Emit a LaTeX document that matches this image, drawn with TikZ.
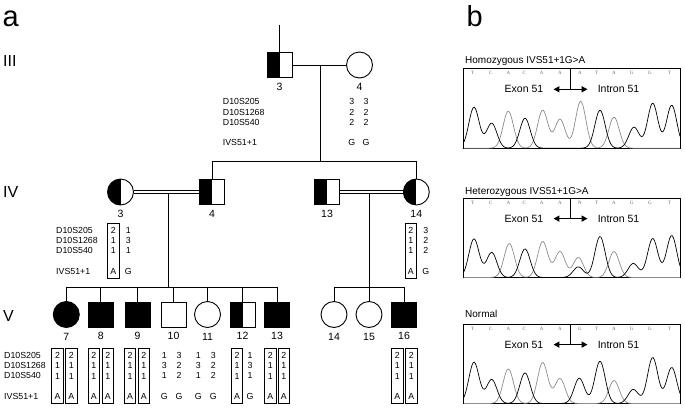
\documentclass[tikz,border=0pt]{standalone}
\usepackage{fontspec}
\setmainfont{Liberation Sans}
\newfontfamily\seqfont{Liberation Serif}
\usetikzlibrary{arrows.meta,positioning}

\newcommand\geno[4]{#1\\#2\\#3\\[10pt]#4}
\newcommand\pk[3]{#3*exp(-min(((#1-#2)/7.3)*((#1-#2)/7.3),9))}

\begin{document}
\begin{tikzpicture}[x=1pt,y=-1pt,
    pline/.style={line width=0.8pt},
    dbl/.style={double, double distance=1.8pt, line width=0.7pt},
    ped/.style={draw, line width=0.9pt, inner sep=0pt, minimum size=25pt},
    male/.style={ped, rectangle},
    female/.style={ped, circle, minimum size=26pt},
    aff/.style={fill=black},
    half/.style={path picture={\fill[black] (path picture bounding box.south west) rectangle (path picture bounding box.north);}},
    num/.style={font=\fontsize{10.5}{12}\selectfont, inner sep=0pt},
    gen/.style={font=\fontsize{16}{18}\selectfont, anchor=west, inner sep=0pt},
    panel/.style={font=\fontsize{29}{32}\selectfont, anchor=base west, inner sep=0pt},
    mkr/.style={font=\fontsize{8.8}{10.3}\selectfont, align=left, anchor=north west, inner xsep=0pt, inner ysep=4.3pt},
    col/.style={font=\fontsize{8.8}{10.3}\selectfont, align=center, anchor=north, inner xsep=2.8pt, inner ysep=4.3pt},
    colbox/.style={col, draw, line width=0.7pt},
    ttl/.style={font=\fontsize{10}{12}\selectfont, anchor=base west, inner sep=0pt},
    seqtxt/.style={font=\seqfont\fontsize{5}{6}\selectfont, text=black!60, inner sep=0pt},
    exo/.style={font=\fontsize{10.5}{12}\selectfont, inner sep=0pt},
    dblarr/.style={{Triangle[length=6pt,width=6pt]}-{Triangle[length=6pt,width=6pt]}, line width=1.3pt},
    frame/.style={line width=0.8pt},
    blk/.style={line width=0.7pt},
    gry/.style={line width=0.7pt, black!45}]
\useasboundingbox (0,0) rectangle (685,407);

% panel letters and generations
\node[panel] (pa) at (2.5,26.7) {a};
\node[panel] (pb) at (466.5,26.7) {b};
\node[gen] (gIII) at (3,61) {III};
\node[gen] (gIV) at (3,192) {IV};
\node[gen] (gV) at (3,316) {V};

% generation III
\coordinate (top) at (279.5,25);
\node[male, half] (III3) at (279.5,65) {};
\node[female] (III4) at (359.5,65) {};
\draw[pline] (top) -- (III3);
\draw[pline] (III3) -- (III4);
\coordinate (m3) at (320.5,65);
\coordinate (s3) at (320.5,161);
\draw[pline] (m3) -- (s3);

% generation IV
\node[female, half] (IV3) at (120.5,192) {};
\node[male, half] (IV4) at (212,192) {};
\node[male, half] (IV13) at (327,192) {};
\node[female, half] (IV14) at (416.3,192) {};
\draw[pline] (IV4 |- s3) -- (IV14 |- s3);
\draw[pline] (IV4 |- s3) -- (IV4);
\draw[pline] (IV14 |- s3) -- (IV14);
\draw[dbl] (IV3) -- (IV4);
\draw[dbl] (IV13) -- (IV14);
\coordinate (m4) at (168.3,193.6);
\coordinate (s4) at (168.3,287);
\coordinate (m13) at (369,193.6);
\coordinate (s13) at (369,287);
\draw[pline] (m4) -- (s4);
\draw[pline] (m13) -- (s13);

% generation V
\node[female, aff] (V7) at (66.3,314.5) {};
\node[male, aff] (V8) at (100.8,314.5) {};
\node[male, aff] (V9) at (137.5,314.5) {};
\node[male] (V10) at (173.5,314.5) {};
\node[female] (V11) at (207.5,314.5) {};
\node[male, half] (V12) at (242.5,314.5) {};
\node[male, aff] (V13) at (277,314.5) {};
\node[female] (V14) at (334,314.5) {};
\node[female] (V15) at (369,314.5) {};
\node[male, aff] (V16) at (404,314.5) {};
\draw[pline] (V7 |- s4) -- (V13 |- s4);
\foreach \c in {V7,V8,V9,V10,V11,V12,V13}
  \draw[pline] (\c |- s4) -- (\c);
\draw[pline] (V14 |- s13) -- (V16 |- s13);
\foreach \c in {V14,V15,V16}
  \draw[pline] (\c |- s13) -- (\c);

% numbers
\foreach \c/\n in {III3/3,III4/4,IV3/3,IV4/4,IV13/13,IV14/14,V7/7,V8/8,V9/9,V10/10,V11/11,V12/12,V13/13,V14/14,V15/15,V16/16}
  \node[num, below=5pt of \c] (n\c) {\n};

% haplotypes
\node[mkr] (mkIII) at (222.7,94.3) {D10S205\\D10S1268\\D10S540\\[10pt]IVS51+1};
\node[mkr] (mkIV) at (56,222.6) {D10S205\\D10S1268\\D10S540\\[10pt]IVS51+1};
\node[mkr] (mkV) at (4,347.6) {D10S205\\D10S1268\\D10S540\\[10pt]IVS51+1};
\node[col] (III4a) at (351.7,94.3) {\geno{3}{2}{2}{G}};
\node[col] (III4b) at (366,94.3) {\geno{3}{2}{2}{G}};
\node[colbox] (IV3a) at (113.3,222.6) {\geno{2}{1}{1}{A}};
\node[col] (IV3b) at (128.3,222.6) {\geno{1}{3}{1}{G}};
\node[colbox] (IV14a) at (410.7,222.6) {\geno{2}{1}{1}{A}};
\node[col] (IV14b) at (425.7,222.6) {\geno{3}{2}{2}{G}};
\foreach \x [count=\i] in {57.5,71.3,93.7,107.8,130,143.7,237,270.3,283.8,397.2,411.3}
  \node[colbox] (hA\i) at (\x,347.6) {\geno{2}{1}{1}{A}};
\node[col] (V10a) at (164.3,347.6) {\geno{1}{3}{1}{G}};
\node[col] (V10b) at (179,347.6) {\geno{3}{2}{2}{G}};
\node[col] (V11a) at (198.3,347.6) {\geno{1}{3}{1}{G}};
\node[col] (V11b) at (213.3,347.6) {\geno{3}{2}{2}{G}};
\node[col] (V12b) at (250,347.6) {\geno{1}{3}{1}{G}};

% sequencing panels
\foreach \ty/\yb/\ttxt/\md [count=\i] in {68.7/63.5/Homozygous IVS51+1G>A/A, 198/194/Heterozygous IVS51+1G>A/N, 324/317.7/Normal/G}{
  \node[ttl] (ttl\i) at (465,\yb) {\ttxt};
  \draw[frame] (463.5,\ty) rectangle (680.7,\ty+79.5);
  \foreach \x/\s [count=\j] in {472.7/T,490.7/C,508.3/A,524.3/C,541.7/A,560/A,580/\md,596.7/T,614/A,631.7/G,650/G,669.3/T}
    \node[seqtxt] (sq\i-\j) at (\x,\ty+4.6) {\s};
  \coordinate (dv\i) at (570.5,\ty);
  \coordinate (ar\i) at (570.5,\ty+20.6);
  \node[exo] (ex\i) at (524,\ty+20.6) {Exon 51};
  \node[exo] (in\i) at (618.5,\ty+20.6) {Intron 51};
  \draw[pline] (dv\i) -- (ar\i);
  \draw[dblarr] ([xshift=10pt]ex\i.east) -- ([xshift=-10pt]in\i.west);
}

% traces
\draw[gry] plot[domain=464:680,samples=170] (\x,{148.2-\pk{\x}{508.3}{37}-\pk{\x}{542.7}{38}-\pk{\x}{560}{29}-\pk{\x}{580.7}{47}-\pk{\x}{614}{31}});
\draw[blk] plot[domain=464:680,samples=170] (\x,{148.2-\pk{\x}{474}{41}-\pk{\x}{491.7}{25}-\pk{\x}{525}{30}-\pk{\x}{600}{38}-\pk{\x}{634}{21}-\pk{\x}{652.7}{45}-\pk{\x}{671.7}{43}});
\draw[gry] plot[domain=464:680,samples=170] (\x,{277.5-\pk{\x}{509.3}{34}-\pk{\x}{542.7}{36}-\pk{\x}{560}{26}-\pk{\x}{578.3}{20}-\pk{\x}{614}{26}});
\draw[blk] plot[domain=464:680,samples=170] (\x,{277.5-\pk{\x}{474}{38.6}-\pk{\x}{491.7}{25}-\pk{\x}{525}{28.6}-\pk{\x}{578.3}{10.6}-\pk{\x}{600}{41}-\pk{\x}{633.3}{14}-\pk{\x}{652.7}{39}-\pk{\x}{671.7}{42}});
\draw[gry] plot[domain=464:680,samples=170] (\x,{403.5-\pk{\x}{508.3}{34.6}-\pk{\x}{542.7}{41}-\pk{\x}{560}{25}-\pk{\x}{614}{23}});
\draw[blk] plot[domain=464:680,samples=170] (\x,{403.5-\pk{\x}{474}{41.3}-\pk{\x}{491.7}{24}-\pk{\x}{525}{30.6}-\pk{\x}{579.3}{25.3}-\pk{\x}{600}{42.3}-\pk{\x}{633.3}{14}-\pk{\x}{652.7}{46}-\pk{\x}{671.7}{36}});
\end{tikzpicture}
\end{document}
